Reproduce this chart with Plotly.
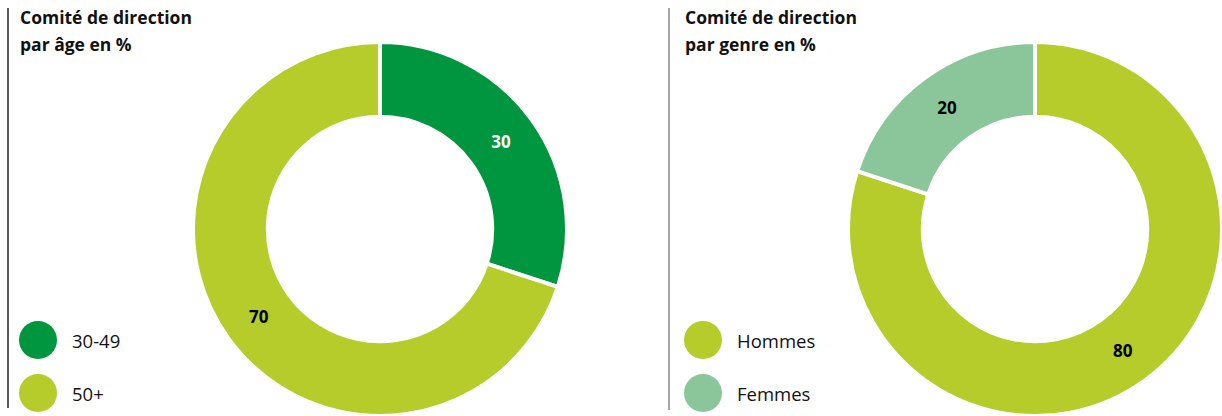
import plotly.graph_objects as go

# Data
age_labels = ["30-49", "50+"]
age_values = [30, 70]
genre_labels = ["Hommes", "Femmes"]
genre_values = [80, 20]

age_colors = ["#009640", "#b5cc2a"]
genre_colors = ["#b5cc2a", "#8bc69b"]
age_text_colors = ["white", "black"]
genre_text_colors = ["black", "black"]

title_line1 = ["Comité de direction", "Comité de direction"]
title_line2 = ["par âge en %", "par genre en %"]

W, H = 1222, 416
FONT = "Open Sans"

fig = go.Figure()

fig.add_trace(go.Pie(
    labels=age_labels, values=age_values, sort=False, direction="clockwise",
    rotation=0, hole=0.6,
    marker=dict(colors=age_colors, line=dict(color="white", width=4)),
    texttemplate="%{value}", textposition="inside", insidetextorientation="horizontal",
    textfont=dict(family=FONT, size=17, color=age_text_colors, weight="bold"),
    domain=dict(x=[193 / W, 567 / W], y=[0, 374 / H]),
    hoverinfo="label+value", showlegend=False,
))
fig.add_trace(go.Pie(
    labels=genre_labels, values=genre_values, sort=False, direction="clockwise",
    rotation=0, hole=0.6,
    marker=dict(colors=genre_colors, line=dict(color="white", width=4)),
    texttemplate="%{value}", textposition="inside", insidetextorientation="horizontal",
    textfont=dict(family=FONT, size=17, color=genre_text_colors, weight="bold"),
    domain=dict(x=[848 / W, 1.0], y=[0, 374 / H]),
    hoverinfo="label+value", showlegend=False,
))

shapes = []
annotations = []

# Vertical separators
shapes.append(dict(type="line", xref="paper", yref="paper",
                   x0=8 / W, x1=8 / W, y0=1 - 408 / H, y1=1 - 8 / H,
                   line=dict(color="#222222", width=1.5)))
shapes.append(dict(type="line", xref="paper", yref="paper",
                   x0=669 / W, x1=669 / W, y0=1 - 410 / H, y1=1 - 8 / H,
                   line=dict(color="#8a8a8a", width=1.5)))

# Titles (two lines each)
for tx, l1, l2 in zip([18, 683], title_line1, title_line2):
    for yy, t in zip([17, 44], [l1, l2]):
        annotations.append(dict(xref="paper", yref="paper", x=tx / W, y=1 - yy / H,
                                xanchor="left", yanchor="middle", align="left",
                                text="<b>" + t + "</b>", showarrow=False,
                                font=dict(family=FONT, size=17.5, color="#111111")))

# Custom legends
def add_legend(x_circle, labels, colors):
    ys = [340, 393]
    for lab, col, yy in zip(labels, colors, ys):
        r = 19
        shapes.append(dict(type="circle", xref="paper", yref="paper",
                           x0=(x_circle - r) / W, x1=(x_circle + r) / W,
                           y0=1 - (yy + r) / H, y1=1 - (yy - r) / H,
                           fillcolor=col, line=dict(width=0)))
        annotations.append(dict(xref="paper", yref="paper", x=(x_circle + 32) / W,
                                y=1 - yy / H, xanchor="left", yanchor="middle",
                                text=lab, showarrow=False,
                                font=dict(family=FONT, size=18.5, color="#111111")))

add_legend(38, age_labels, age_colors)
add_legend(703, genre_labels, genre_colors)

fig.update_layout(
    width=W, height=H,
    margin=dict(l=0, r=0, t=0, b=0),
    paper_bgcolor="white", plot_bgcolor="white",
    shapes=shapes, annotations=annotations,
    showlegend=False,
)

fig.write_html("out.html", config={"displayModeBar": False},
               post_script="document.body.style.margin='0';document.body.style.overflow='hidden';")
